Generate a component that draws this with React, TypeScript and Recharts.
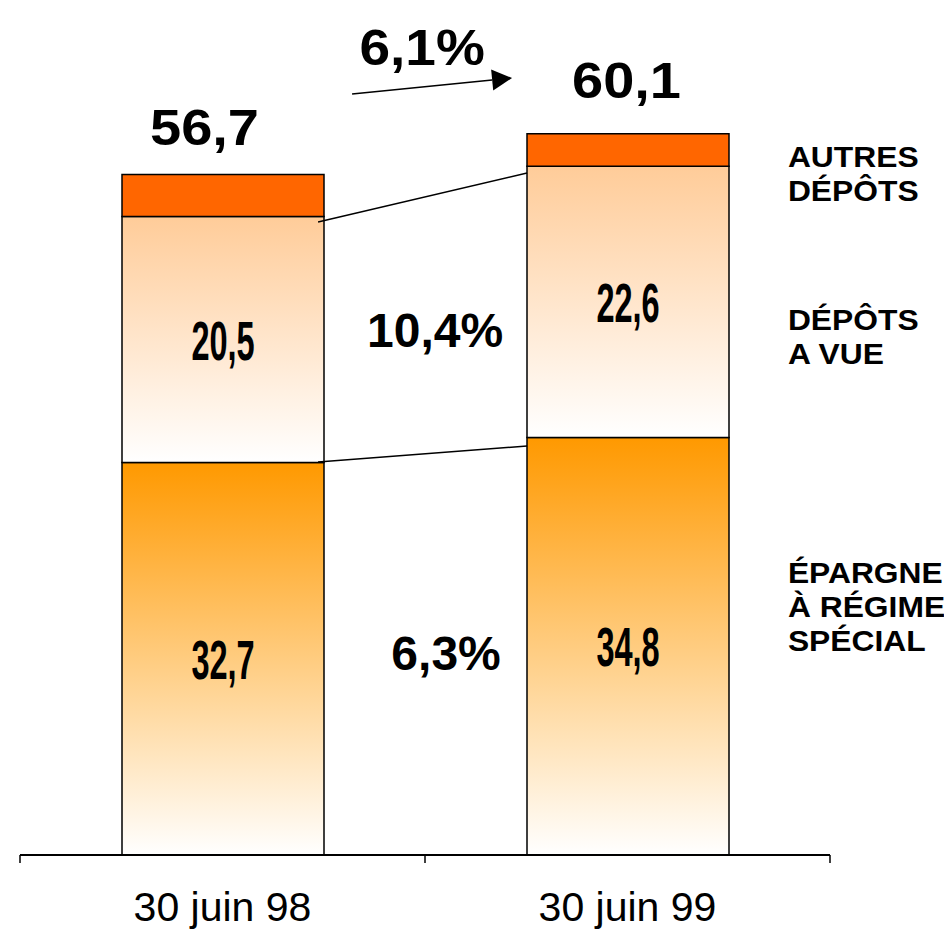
import React from 'react';
import { BarChart, Bar, XAxis, YAxis, LabelList, ReferenceLine, ReferenceDot } from 'recharts';

// ---- data ----
const categories = ['30 juin 98', '30 juin 99'];
const epargne = [32.7, 34.8];
const depotsVue = [20.5, 22.6];
const autresDepots = [3.5, 2.7];
const totals = [56.7, 60.1];
const growthLabels = ['6,1%', '10,4%', '6,3%'];
const seriesLabels = [
  ['AUTRES', 'DÉPÔTS'],
  ['DÉPÔTS', 'A VUE'],
  ['ÉPARGNE', 'À RÉGIME', 'SPÉCIAL'],
];

// annotation anchors (data units: x in category units, y in value units)
const growthAnchors = [
  { x: 0.993, y: 65.8 },
  { x: 1.025, y: 42.3 },
  { x: 1.052, y: 15.4 },
];
const seriesLabelAnchors = [
  { x: 1.896, y: 57.3 },
  { x: 1.896, y: 43.75 },
  { x: 1.896, y: 22.67 },
];
const arrowSeg = [{ x: 0.82, y: 63.42 }, { x: 1.215, y: 64.75 }];
const connectorTop = [{ x: 0.736, y: 52.75 }, { x: 1.252, y: 56.83 }];
const connectorBottom = [{ x: 0.736, y: 32.75 }, { x: 1.252, y: 34.08 }];

const data = categories.map((c, i) => ({
  pos: i + 0.5,
  name: c,
  epargne: epargne[i],
  depotsVue: depotsVue[i],
  autres: autresDepots[i],
}));

// ---- style ----
const FONT = "'Liberation Sans', Arial, Helvetica, sans-serif";
const TOTAL_DX = [-18.5, -1.5];
const TOTAL_DY = [-30, -36];

const fmt = (v: number) => v.toFixed(1).replace('.', ',');

const ScaledText = ({ x, y, sx = 1, size, weight = 'bold', anchor = 'middle', children }: any) => (
  <text
    transform={`translate(${x},${y}) scale(${sx},1)`}
    textAnchor={anchor}
    fontSize={size}
    fontWeight={weight}
    fontFamily={FONT}
    fill="#000"
  >
    {children}
  </text>
);

const innerLabel = (props: any) => {
  const { x, y, width, height, value } = props;
  return (
    <ScaledText x={Number(x) + Number(width) / 2} y={Number(y) + Number(height) / 2 + 20} sx={0.58} size={56}>
      {fmt(Number(value))}
    </ScaledText>
  );
};

const totalLabel = (props: any) => {
  const { x, y, width, index } = props;
  return (
    <ScaledText x={Number(x) + Number(width) / 2 + TOTAL_DX[index]} y={Number(y) + TOTAL_DY[index]} sx={1.12} size={50}>
      {fmt(totals[index])}
    </ScaledText>
  );
};

const AxisTick = (props: any) => {
  const { x, y, payload } = props;
  const v = Number(payload.value);
  if (Number.isInteger(v)) {
    return <line x1={x} x2={x} y1={y} y2={y + 8} stroke="#000" strokeWidth={1.5} />;
  }
  return (
    <text x={x} y={y + 66} textAnchor="middle" fontSize={41} fontFamily={FONT} fill="#000">
      {categories[Math.floor(v)]}
    </text>
  );
};

const ArrowShape = (props: any) => {
  const { x1, y1, x2, y2 } = props;
  const ang = Math.atan2(y2 - y1, x2 - x1);
  const len = 20;
  const hw = 10.5;
  const bx = x2 - len * Math.cos(ang);
  const by = y2 - len * Math.sin(ang);
  const px = -Math.sin(ang) * hw;
  const py = Math.cos(ang) * hw;
  return (
    <g>
      <line x1={x1} y1={y1} x2={bx} y2={by} stroke="#000" strokeWidth={1.5} />
      <polygon points={`${x2},${y2} ${bx + px},${by + py} ${bx - px},${by - py}`} fill="#000" />
    </g>
  );
};

const lineShape = (props: any) => {
  const { x1, y1, x2, y2 } = props;
  return <line x1={x1} y1={y1} x2={x2} y2={y2} stroke="#000" strokeWidth={1.5} />;
};

const growthShape = (i: number) => (props: any) => (
  <ScaledText x={props.cx} y={props.cy} sx={i === 0 ? 1.1 : 1} size={i === 0 ? 50 : 48}>
    {growthLabels[i]}
  </ScaledText>
);

const seriesLabelShape = (i: number) => (props: any) => (
  <g>
    {seriesLabels[i].map((t, k) => (
      <ScaledText key={k} x={props.cx} y={props.cy + k * 34} sx={1.06} size={30} anchor="start">
        {t}
      </ScaledText>
    ))}
  </g>
);

export default function App() {
  return (
    <BarChart
      width={944}
      height={921}
      data={data}
      margin={{ top: 7, right: 122, bottom: 0, left: 12 }}
      barSize={202}
    >
      <defs>
        <linearGradient id="gEp" x1="0" y1="0" x2="0" y2="1">
          <stop offset="0%" stopColor="#FF9900" />
          <stop offset="100%" stopColor="#FFFFFF" />
        </linearGradient>
        <linearGradient id="gDv" x1="0" y1="0" x2="0" y2="1">
          <stop offset="0%" stopColor="#FFCC99" />
          <stop offset="100%" stopColor="#FFFFFF" />
        </linearGradient>
      </defs>
      <XAxis
        type="number"
        dataKey="pos"
        domain={[0, 2]}
        ticks={[0, 0.5, 1, 1.5, 2]}
        interval={0}
        tick={<AxisTick />}
        tickLine={false}
        tickSize={0}
        tickMargin={0}
        axisLine={{ stroke: '#000', strokeWidth: 2 }}
        height={74}
      />
      <YAxis hide domain={[0, 70]} type="number" />
      <Bar dataKey="epargne" stackId="a" fill="url(#gEp)" stroke="#000" strokeWidth={1.5} isAnimationActive={false}>
        <LabelList dataKey="epargne" content={innerLabel} />
      </Bar>
      <Bar dataKey="depotsVue" stackId="a" fill="url(#gDv)" stroke="#000" strokeWidth={1.5} isAnimationActive={false}>
        <LabelList dataKey="depotsVue" content={innerLabel} />
      </Bar>
      <Bar dataKey="autres" stackId="a" fill="#FF6600" stroke="#000" strokeWidth={1.5} isAnimationActive={false}>
        <LabelList dataKey="autres" content={totalLabel} />
      </Bar>
      <ReferenceLine segment={connectorTop} ifOverflow="visible" shape={lineShape} />
      <ReferenceLine segment={connectorBottom} ifOverflow="visible" shape={lineShape} />
      <ReferenceLine segment={arrowSeg} ifOverflow="visible" shape={ArrowShape} />
      {growthAnchors.map((a, i) => (
        <ReferenceDot key={`g${i}`} x={a.x} y={a.y} r={0} ifOverflow="visible" shape={growthShape(i)} />
      ))}
      {seriesLabelAnchors.map((a, i) => (
        <ReferenceDot key={`s${i}`} x={a.x} y={a.y} r={0} ifOverflow="visible" shape={seriesLabelShape(i)} />
      ))}
    </BarChart>
  );
}
